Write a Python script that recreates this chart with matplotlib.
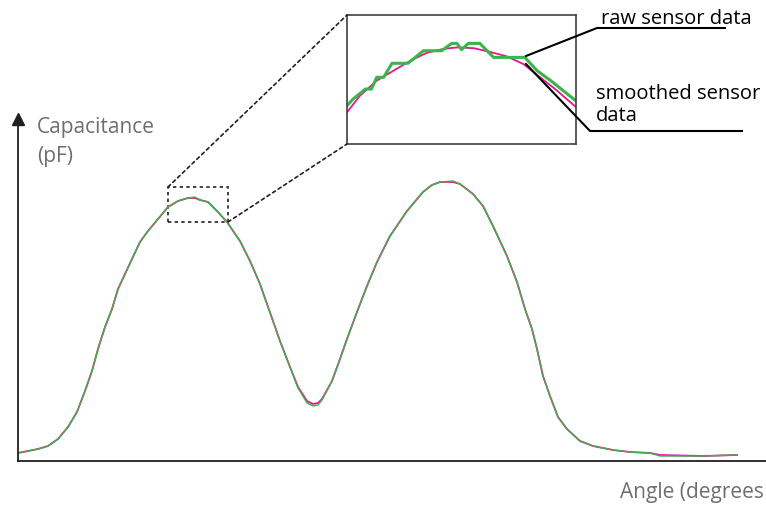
import matplotlib
matplotlib.use("Agg")
import matplotlib.pyplot as plt
from matplotlib.patches import Rectangle, ConnectionPatch
from matplotlib.lines import Line2D

# main curve: angle (deg) vs capacitance (pF)
angle = [0, 5, 10, 15, 20, 25, 29.5, 33.5, 37, 40, 43.5, 47, 50, 53.5, 57, 61, 65, 70, 75, 80,
         85, 88.5, 91, 95, 99.5, 104.5, 111, 116, 121, 124.5, 127.5, 131, 136, 140, 144.5, 147.5,
         150, 152, 157, 161, 164.5, 169.5, 174.5, 179.5, 186, 194.5, 202.5, 207, 211, 217.5, 221,
         227.5, 232.5, 237.5, 244.5, 249.5, 253.5, 257, 259.5, 262.5, 266, 270, 274.5, 281, 287.5,
         297.5, 306, 316, 321, 342.5, 359.5]
cap_smooth = [0.8, 1.0, 1.2, 1.5, 2.2, 3.4, 4.9, 7.0, 9.0, 11.2, 13.4, 15.2, 17.2, 18.7, 20.2,
              21.9, 23.0, 24.2, 25.4, 26.0, 26.3, 26.3, 26.1, 25.9, 25.0, 23.9, 22.0, 20.0, 17.7,
              15.7, 14.0, 12.0, 9.4, 7.4, 6.0, 5.7, 5.8, 6.2, 8.0, 10.2, 12.2, 14.9, 17.5, 19.9,
              22.5, 25.0, 26.9, 27.6, 27.9, 27.9, 27.7, 26.7, 25.5, 23.5, 20.5, 17.9, 15.2, 13.2,
              11.2, 8.5, 6.5, 4.4, 3.2, 2.0, 1.5, 1.1, 0.9, 0.8, 0.6, 0.5, 0.6]
cap_raw = [0.8, 1.0, 1.2, 1.5, 2.2, 3.4, 4.9, 7.0, 9.0, 11.2, 13.4, 15.2, 17.2, 18.7, 20.2,
           21.9, 23.0, 24.2, 25.4, 26.0, 26.3, 26.4, 26.1, 25.9, 25.0, 23.9, 22.0, 20.0, 17.7,
           15.7, 14.0, 12.0, 9.4, 7.3, 5.8, 5.5, 5.6, 6.1, 8.0, 10.2, 12.2, 14.9, 17.5, 19.9,
           22.5, 25.0, 26.9, 27.6, 27.9, 28.0, 27.7, 26.7, 25.5, 23.5, 20.5, 17.9, 15.2, 13.2,
           11.2, 8.5, 6.5, 4.4, 3.2, 2.0, 1.5, 1.1, 0.9, 0.8, 0.5, 0.5, 0.6]

# zoomed section (inset)
zoom_angle_raw = [75.0, 75.8, 77.4, 78.2, 78.9, 79.8, 80.9, 83.0, 85.0, 87.4, 88.7, 89.4, 90.0,
                  90.9, 92.4, 94.2, 98.3, 99.9, 102.0, 103.3, 105.0]
zoom_cap_raw = [24.94, 25.12, 25.39, 25.39, 25.71, 25.71, 26.09, 26.09, 26.43, 26.43, 26.63,
                26.63, 26.46, 26.63, 26.63, 26.25, 26.25, 25.89, 25.57, 25.35, 25.07]
zoom_angle_smooth = [75.0, 76.7, 78.9, 81.1, 83.3, 85.4, 87.6, 89.4, 91.6, 93.7, 95.9, 98.1,
                     100.3, 102.5, 105.0]
zoom_cap_smooth = [24.76, 25.21, 25.62, 25.89, 26.16, 26.37, 26.48, 26.52, 26.50, 26.40,
                   26.28, 26.07, 25.71, 25.35, 24.90]
zoom_x = (75, 105)
zoom_y = (23.9, 27.4)

GREEN = '#3ab54a'
MAGENTA = '#e5178f'
DARK = '#231f20'
GREY = '#6d6e71'
W, H = 766, 506

plt.rcParams['font.family'] = ['Open Sans', 'DejaVu Sans']


def fx(x):
    return x / W


def fy(y):
    return 1 - y / H


fig = plt.figure(figsize=(W / 100, H / 100), dpi=100)

# main axes
ax = fig.add_axes([fx(18), fy(462), fx(766 - 18), (462 - 120) / H])
ax.plot(angle, cap_smooth, color=MAGENTA, lw=1.3)
ax.plot(angle, cap_raw, color=GREEN, lw=1.0)
ax.set_xlim(0, (766 - 18) / 2)
ax.set_ylim(0, (462 - 120) / 10)
for s in ['top', 'right']:
    ax.spines[s].set_visible(False)
for s in ['left', 'bottom']:
    ax.spines[s].set_color(DARK)
    ax.spines[s].set_linewidth(1.3)
ax.set_xticks([])
ax.set_yticks([])
ax.plot(0, 1, marker='^', color=DARK, markersize=8, transform=ax.transAxes, clip_on=False)

ax.add_patch(Rectangle((zoom_x[0], zoom_y[0]), zoom_x[1] - zoom_x[0], zoom_y[1] - zoom_y[0],
                       fill=False, ec=DARK, lw=1.2, ls=(0, (2, 2))))

# inset
axi = fig.add_axes([fx(347), fy(145), fx(576 - 347), (145 - 16) / H])
axi.plot(zoom_angle_smooth, zoom_cap_smooth, color=MAGENTA, lw=1.3)
axi.plot(zoom_angle_raw, zoom_cap_raw, color=GREEN, lw=2.2)
axi.set_xlim(*zoom_x)
axi.set_ylim(*zoom_y)
axi.set_xticks([])
axi.set_yticks([])
for s in axi.spines.values():
    s.set_color('#414042')
    s.set_linewidth(1.2)

for a, b in [((zoom_x[0], zoom_y[1]), (zoom_x[0], zoom_y[1])),
             ((zoom_x[1], zoom_y[0]), (zoom_x[0], zoom_y[0]))]:
    fig.add_artist(ConnectionPatch(xyA=a, coordsA=ax.transData, xyB=b, coordsB=axi.transData,
                                   color=DARK, lw=1.2, ls=(0, (2, 2))))

# leader lines to labels
fig.add_artist(Line2D([fx(526), fx(597), fx(725)], [fy(57), fy(29), fy(29)],
                      color='black', lw=1.5))
fig.add_artist(Line2D([fx(526), fx(590), fx(742)], [fy(65), fy(132), fy(132)],
                      color='black', lw=1.5))

fig.text(fx(601), fy(24), 'raw sensor data', fontsize=14.5, color='black', va='baseline')
fig.text(fx(596), fy(121), 'smoothed sensor\ndata', fontsize=14.5, color='black', va='baseline',
         linespacing=1.1)
fig.text(fx(37), fy(162), 'Capacitance\n(pF)', fontsize=15, color=GREY, va='baseline',
         linespacing=1.5)
# the reference shows the label cut at the right edge
fig.text(fx(764), fy(498), 'Angle (degrees', fontsize=15, color=GREY, va='baseline', ha='right')

fig.savefig('out.png', dpi=100)
